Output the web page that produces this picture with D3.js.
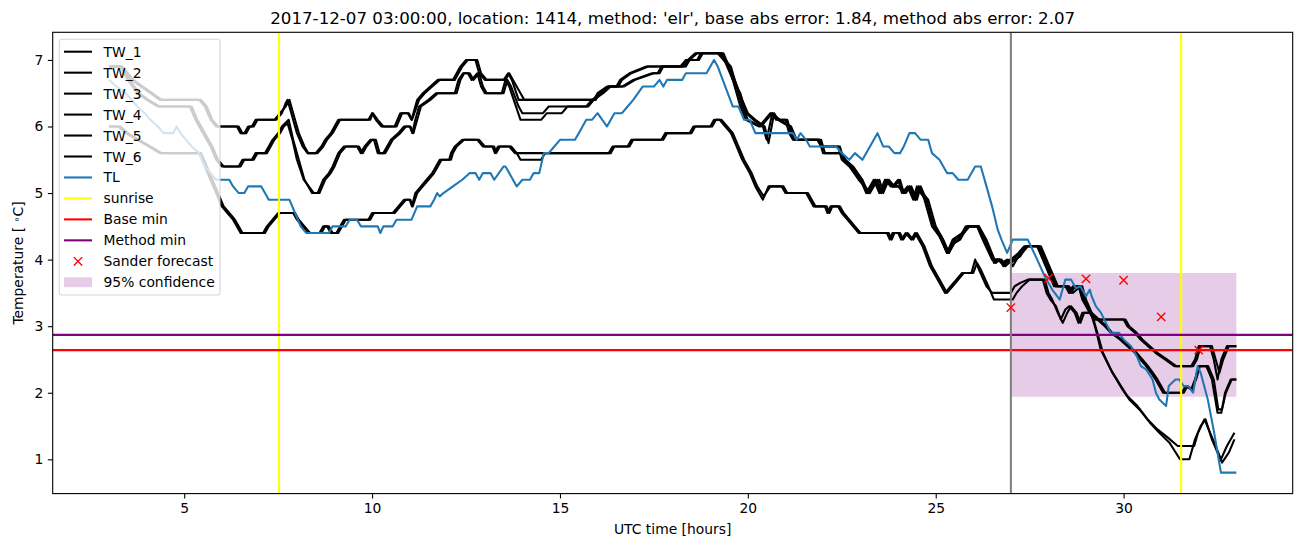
<!DOCTYPE html>
<html><head><meta charset="utf-8">
<script src="https://cdn.jsdelivr.net/npm/d3@7"></script>
<style>body{margin:0;background:#fff} svg{display:block} text{font-family:"DejaVu Sans",sans-serif;fill:#000}</style>
</head><body><svg id="chart" width="1302" height="547"></svg>
<script>
const TITLE = "2017-12-07 03:00:00, location: 1414, method: 'elr', base abs error: 1.84, method abs error: 2.07";
const X_LABEL = "UTC time [hours]";
const X_TICKS = [5, 10, 15, 20, 25, 30];
const Y_TICKS = [1, 2, 3, 4, 5, 6, 7];
const X_DOMAIN = [1.5, 34.5];
const Y_DOMAIN = [0.485, 7.415];
const SUNRISE = [7.52, 31.53];
const FORECAST_TIME = [27.0];
const BASE_MIN = [2.64];
const METHOD_MIN = [2.87];
const CONF_HOURS = [27.0, 33.0];
const CONF_LOW = [1.94, 1.94];
const CONF_HIGH = [3.80, 3.80];
const SANDER_HOURS = [27, 28, 29, 30, 31, 32];
const SANDER_VALUES = [3.28, 3.72, 3.71, 3.69, 3.14, 2.64];

const TW_1 = [[3.0,6.9],[3.3,6.9],[3.45,6.8],[3.6,6.7],[3.85,6.6],[4.1,6.5],[4.35,6.4],[5.4,6.4],[5.55,6.3],[5.7,6.1],[5.85,6.0],[6.4,6.0],[6.5,5.9],[6.6,5.9],[6.7,6.0],[6.8,6.0],[6.9,6.1],[7.4,6.1],[7.55,6.2],[7.7,6.3],[7.8,6.4],[7.9,6.2],[8.05,5.9],[8.2,5.7],[8.3,5.6],[8.5,5.6],[8.65,5.7],[8.75,5.8],[8.9,5.9],[9.0,6.0],[9.1,6.1],[9.9,6.1],[10.0,6.2],[10.1,6.1],[10.25,6.0],[10.6,6.0],[10.75,6.2],[10.95,6.2],[11.05,6.1],[11.2,6.4],[11.35,6.5],[11.55,6.6],[11.75,6.7],[12.15,6.7],[12.25,6.8],[12.35,6.9],[12.5,7.0],[12.75,7.0],[12.85,6.8],[13.0,6.7],[13.5,6.7],[13.62,6.8],[13.72,6.7],[13.9,6.4],[15.9,6.4],[16.0,6.5],[16.25,6.6],[16.5,6.6],[16.6,6.7],[16.85,6.8],[17.3,6.9],[18.3,6.9],[18.4,7.0],[18.6,7.1],[19.2,7.1],[19.35,7.0],[19.5,6.9],[19.6,6.7],[19.8,6.5],[19.95,6.2],[20.15,6.1],[20.4,6.0],[20.5,5.8],[20.65,6.2],[20.75,6.1],[21.0,6.1],[21.1,5.9],[21.2,5.8],[21.85,5.8],[21.95,5.7],[22.4,5.7],[22.5,5.5],[22.7,5.4],[22.95,5.2],[23.1,5.1],[23.2,5.0],[23.3,5.1],[23.45,5.2],[23.55,5.0],[23.7,5.2],[23.85,5.1],[24.0,5.2],[24.1,5.0],[24.25,5.1],[24.4,4.9],[24.5,5.1],[24.6,5.0],[24.75,4.9],[24.95,4.5],[25.15,4.3],[25.3,4.1],[25.45,4.25],[25.6,4.3],[25.8,4.5],[26.1,4.5],[26.3,4.3],[26.55,3.95],[26.65,4.0],[26.75,3.95],[26.9,4.0],[27.0,3.95],[27.1,4.0],[27.25,4.05],[27.4,4.2],[27.75,4.2],[27.9,4.0],[28.05,3.8],[28.2,3.6],[28.45,3.6],[28.55,3.5],[28.65,3.6],[28.85,3.6],[28.95,3.4],[29.1,3.2],[29.2,3.1],[30.0,3.1],[30.1,3.0],[30.3,2.9],[30.45,2.8],[30.65,2.7],[30.85,2.6],[31.1,2.5],[31.35,2.4],[31.8,2.4],[31.9,2.5],[32.0,2.7],[32.3,2.7],[32.4,2.5],[32.5,2.2],[32.6,2.5],[32.75,2.7],[33.0,2.7]];
const TW_2 = [[3.0,6.9],[3.35,6.9],[3.5,6.8],[3.65,6.7],[3.9,6.6],[4.15,6.5],[4.4,6.4],[5.45,6.4],[5.6,6.3],[5.75,6.1],[5.9,6.0],[6.45,6.0],[6.55,5.9],[6.65,5.9],[6.75,6.0],[6.85,6.0],[6.95,6.1],[7.45,6.1],[7.6,6.2],[7.7,6.35],[7.75,6.4],[7.85,6.2],[8.0,5.9],[8.15,5.7],[8.28,5.6],[8.55,5.6],[8.7,5.7],[8.8,5.8],[8.95,5.9],[9.05,6.0],[9.15,6.1],[9.95,6.1],[10.02,6.2],[10.15,6.1],[10.3,6.0],[10.65,6.0],[10.8,6.2],[10.98,6.2],[11.06,6.1],[11.25,6.4],[11.4,6.5],[11.6,6.6],[11.8,6.7],[12.2,6.7],[12.3,6.8],[12.4,6.9],[12.55,7.0],[12.8,7.0],[12.9,6.8],[13.05,6.7],[13.55,6.7],[13.65,6.8],[13.75,6.7],[13.95,6.5],[14.05,6.4],[15.95,6.4],[16.05,6.5],[16.3,6.6],[16.55,6.6],[16.65,6.7],[16.9,6.8],[17.35,6.9],[18.35,6.9],[18.45,7.0],[18.65,7.1],[19.25,7.1],[19.4,7.0],[19.55,6.9],[19.65,6.7],[19.85,6.4],[20.0,6.2],[20.2,6.1],[20.45,6.0],[20.55,5.75],[20.7,6.2],[20.8,6.1],[21.05,6.1],[21.15,5.9],[21.25,5.8],[21.9,5.8],[22.0,5.7],[22.45,5.7],[22.55,5.5],[22.75,5.4],[23.0,5.2],[23.12,5.1],[23.25,5.0],[23.35,5.1],[23.5,5.2],[23.6,5.0],[23.75,5.2],[23.9,5.1],[24.05,5.2],[24.15,5.0],[24.3,5.1],[24.45,4.9],[24.55,5.1],[24.65,5.0],[24.8,4.9],[25.0,4.5],[25.2,4.3],[25.35,4.1],[25.5,4.25],[25.65,4.3],[25.85,4.5],[26.15,4.5],[26.35,4.3],[26.6,3.95],[26.7,4.0],[26.8,3.9],[26.95,4.0],[27.05,3.9],[27.15,4.0],[27.3,4.1],[27.45,4.2],[27.8,4.2],[27.95,4.0],[28.1,3.8],[28.25,3.6],[28.5,3.6],[28.6,3.5],[28.7,3.6],[28.9,3.6],[29.0,3.4],[29.15,3.2],[29.25,3.1],[30.05,3.1],[30.15,3.0],[30.35,2.9],[30.5,2.8],[30.7,2.7],[30.9,2.6],[31.15,2.5],[31.4,2.4],[31.85,2.4],[31.95,2.5],[32.05,2.7],[32.35,2.7],[32.45,2.5],[32.55,2.3],[32.65,2.5],[32.8,2.7],[33.0,2.7]];
const TW_3 = [[3.0,6.9],[3.3,6.9],[3.5,6.7],[3.75,6.5],[4.0,6.4],[4.3,6.3],[5.15,6.3],[5.3,6.1],[5.5,5.9],[5.7,5.7],[5.85,5.5],[6.0,5.4],[6.45,5.4],[6.55,5.5],[6.8,5.5],[6.9,5.6],[7.15,5.6],[7.25,5.7],[7.35,5.8],[7.5,5.9],[7.6,6.0],[7.78,6.1],[7.9,5.8],[8.05,5.5],[8.2,5.2],[8.4,5.0],[8.55,5.0],[8.7,5.2],[8.85,5.3],[8.95,5.4],[9.1,5.6],[9.25,5.7],[9.6,5.7],[9.7,5.6],[9.8,5.7],[9.95,5.8],[10.05,5.8],[10.15,5.6],[10.3,5.6],[10.4,5.7],[10.5,5.8],[10.7,5.9],[10.85,6.0],[11.0,6.0],[11.07,5.9],[11.15,6.1],[11.25,6.3],[11.5,6.4],[11.7,6.5],[12.2,6.5],[12.3,6.7],[12.42,6.8],[12.55,6.8],[12.65,6.7],[12.8,6.8],[12.9,6.6],[13.0,6.5],[13.45,6.5],[13.55,6.7],[13.65,6.6],[13.95,6.1],[14.5,6.1],[14.65,6.2],[15.05,6.2],[15.2,6.3],[15.7,6.3],[15.85,6.4],[16.1,6.5],[16.3,6.6],[16.65,6.6],[16.95,6.7],[17.45,6.8],[17.6,6.8],[17.7,6.9],[18.2,6.9],[18.35,7.0],[18.65,7.0],[18.75,7.1],[19.3,7.1],[19.45,6.9],[19.6,6.7],[19.8,6.3],[19.95,6.1],[20.3,6.0],[20.45,6.1],[20.6,6.2],[20.8,6.1],[21.1,6.0],[21.25,5.8],[21.9,5.8],[22.0,5.6],[22.45,5.6],[22.55,5.5],[22.75,5.4],[23.0,5.2],[23.15,5.0],[23.35,5.2],[23.5,5.0],[23.65,5.2],[23.8,5.1],[24.0,5.1],[24.15,5.0],[24.3,5.1],[24.45,4.9],[24.55,5.1],[24.7,4.9],[24.9,4.5],[25.1,4.35],[25.3,4.1],[25.45,4.3],[25.7,4.4],[25.85,4.5],[26.1,4.5],[26.25,4.3],[26.5,4.0],[26.7,4.0],[26.8,3.95],[27.0,4.0],[27.2,4.1],[27.35,4.2],[27.7,4.2],[27.85,4.0],[28.0,3.8],[28.15,3.6],[28.5,3.6],[28.6,3.55],[28.8,3.6],[28.9,3.4],[29.1,3.2],[29.3,3.1],[29.5,3.0],[29.66,2.9],[29.9,2.8],[30.1,2.7],[30.3,2.6],[30.45,2.5],[30.6,2.4],[30.73,2.3],[30.85,2.2],[30.95,2.1],[31.05,2.0],[31.55,2.0],[31.65,2.1],[31.8,2.05],[31.9,2.2],[32.0,2.4],[32.2,2.4],[32.35,2.2],[32.5,1.7],[32.6,1.7],[32.7,2.0],[32.85,2.2],[33.0,2.2]];
const TW_4 = [[3.0,6.9],[3.35,6.9],[3.55,6.7],[3.8,6.5],[4.05,6.4],[4.35,6.3],[5.2,6.3],[5.35,6.1],[5.55,5.9],[5.75,5.7],[5.9,5.5],[6.05,5.4],[6.5,5.4],[6.6,5.5],[6.85,5.5],[6.95,5.6],[7.2,5.6],[7.3,5.7],[7.4,5.8],[7.55,5.9],[7.65,6.0],[7.75,6.05],[7.88,5.8],[8.0,5.5],[8.18,5.2],[8.45,5.0],[8.6,5.0],[8.75,5.2],[8.9,5.3],[9.0,5.4],[9.15,5.6],[9.3,5.7],[9.65,5.7],[9.75,5.6],[9.85,5.7],[10.0,5.8],[10.1,5.8],[10.2,5.6],[10.35,5.6],[10.45,5.7],[10.55,5.8],[10.75,5.9],[10.9,6.0],[11.02,6.0],[11.1,5.9],[11.2,6.1],[11.3,6.3],[11.55,6.4],[11.75,6.5],[12.25,6.5],[12.35,6.7],[12.45,6.8],[12.6,6.8],[12.7,6.7],[12.85,6.8],[12.95,6.6],[13.05,6.5],[13.5,6.5],[13.6,6.7],[13.7,6.6],[13.9,6.3],[14.0,6.2],[14.55,6.2],[14.7,6.3],[15.1,6.3],[15.25,6.3],[15.75,6.3],[15.9,6.4],[16.15,6.5],[16.35,6.6],[16.7,6.6],[17.0,6.7],[17.5,6.8],[17.65,6.8],[17.75,6.9],[18.25,6.9],[18.4,7.0],[18.7,7.0],[18.8,7.1],[19.35,7.1],[19.5,6.9],[19.65,6.7],[19.85,6.3],[20.0,6.1],[20.35,6.0],[20.5,6.1],[20.65,6.2],[20.85,6.1],[21.15,6.0],[21.3,5.8],[21.95,5.8],[22.05,5.6],[22.5,5.6],[22.6,5.5],[22.8,5.4],[23.05,5.2],[23.2,5.0],[23.4,5.2],[23.55,5.0],[23.7,5.2],[23.85,5.1],[24.05,5.1],[24.2,5.0],[24.35,5.1],[24.5,4.9],[24.6,5.1],[24.75,4.9],[24.95,4.5],[25.15,4.35],[25.35,4.1],[25.5,4.3],[25.75,4.4],[25.9,4.5],[26.15,4.5],[26.3,4.3],[26.55,4.0],[26.75,4.0],[26.85,3.9],[27.05,4.0],[27.25,4.1],[27.4,4.2],[27.75,4.2],[27.9,4.0],[28.05,3.8],[28.2,3.6],[28.55,3.6],[28.65,3.5],[28.85,3.6],[28.95,3.4],[29.15,3.2],[29.35,3.1],[29.55,3.0],[29.7,2.9],[29.95,2.8],[30.15,2.7],[30.35,2.6],[30.5,2.5],[30.65,2.4],[30.78,2.3],[30.9,2.2],[31.0,2.1],[31.1,2.0],[31.6,2.0],[31.7,2.1],[31.82,2.05],[31.93,2.2],[32.03,2.4],[32.25,2.4],[32.4,2.2],[32.52,1.75],[32.62,1.75],[32.72,2.0],[32.88,2.2],[33.0,2.2]];
const TW_5 = [[3.0,6.0],[3.25,6.0],[3.45,5.9],[3.75,5.8],[4.05,5.7],[4.35,5.6],[5.4,5.6],[5.55,5.4],[5.7,5.2],[5.85,5.0],[6.0,4.8],[6.15,4.7],[6.3,4.6],[6.4,4.5],[6.5,4.4],[7.1,4.4],[7.2,4.5],[7.35,4.6],[7.5,4.7],[7.9,4.7],[8.0,4.6],[8.15,4.5],[8.3,4.4],[8.6,4.4],[8.7,4.5],[8.8,4.5],[8.9,4.4],[9.05,4.4],[9.15,4.5],[9.25,4.6],[9.9,4.6],[10.0,4.7],[10.55,4.7],[10.7,4.8],[10.85,4.9],[11.0,4.9],[11.06,4.8],[11.15,5.0],[11.3,5.1],[11.45,5.2],[11.6,5.3],[11.7,5.4],[11.8,5.5],[12.05,5.5],[12.1,5.6],[12.2,5.7],[12.4,5.8],[12.8,5.8],[12.95,5.7],[13.2,5.7],[13.27,5.6],[13.35,5.7],[13.7,5.7],[13.85,5.6],[13.95,5.5],[14.5,5.5],[14.6,5.6],[16.3,5.6],[16.4,5.7],[16.8,5.7],[16.9,5.8],[17.7,5.8],[17.8,5.9],[18.45,5.9],[18.55,6.0],[19.0,6.0],[19.1,6.1],[19.25,6.1],[19.4,6.0],[19.55,5.9],[19.7,5.7],[19.85,5.5],[20.05,5.3],[20.2,5.1],[20.4,4.9],[20.55,5.1],[20.9,5.1],[21.0,5.0],[21.55,5.0],[21.65,4.9],[21.75,4.8],[22.05,4.8],[22.12,4.7],[22.2,4.8],[22.4,4.8],[22.5,4.7],[22.65,4.6],[22.8,4.5],[22.95,4.4],[23.7,4.4],[23.78,4.3],[23.85,4.4],[24.0,4.4],[24.08,4.3],[24.2,4.4],[24.35,4.3],[24.45,4.4],[24.65,4.2],[24.85,3.9],[25.05,3.7],[25.25,3.5],[25.4,3.6],[25.55,3.7],[25.7,3.8],[25.95,3.8],[26.05,4.0],[26.15,3.85],[26.35,3.6],[26.5,3.5],[27.0,3.5],[27.1,3.6],[27.25,3.65],[27.45,3.7],[27.85,3.7],[27.95,3.5],[28.05,3.4],[28.2,3.3],[28.33,3.1],[28.45,3.25],[28.55,3.3],[28.7,3.2],[28.8,3.05],[28.9,3.2],[29.13,3.2],[29.26,2.95],[29.39,2.65],[29.66,2.35],[29.93,2.1],[30.1,1.95],[30.37,1.8],[30.64,1.6],[30.9,1.45],[31.17,1.33],[31.44,1.2],[31.88,1.2],[31.98,1.4],[32.15,1.6],[32.3,1.4],[32.45,1.2],[32.59,1.0],[32.75,1.2],[32.95,1.4]];
const TW_6 = [[3.0,6.0],[3.3,6.0],[3.5,5.9],[3.8,5.8],[4.1,5.7],[4.4,5.6],[5.45,5.6],[5.6,5.4],[5.75,5.2],[5.9,5.0],[6.05,4.8],[6.2,4.7],[6.35,4.6],[6.45,4.5],[6.55,4.4],[7.15,4.4],[7.25,4.5],[7.4,4.6],[7.55,4.7],[7.95,4.7],[8.05,4.6],[8.2,4.5],[8.35,4.4],[8.65,4.4],[8.75,4.5],[8.85,4.5],[8.95,4.4],[9.1,4.4],[9.2,4.5],[9.3,4.6],[9.95,4.6],[10.05,4.7],[10.6,4.7],[10.75,4.8],[10.9,4.9],[11.02,4.9],[11.08,4.8],[11.2,5.0],[11.35,5.1],[11.5,5.2],[11.65,5.3],[11.75,5.4],[11.85,5.5],[12.1,5.5],[12.15,5.6],[12.25,5.7],[12.45,5.8],[12.85,5.8],[13.0,5.7],[13.25,5.7],[13.3,5.6],[13.4,5.7],[13.65,5.7],[13.8,5.6],[14.55,5.6],[16.35,5.6],[16.45,5.7],[16.85,5.7],[16.95,5.8],[17.75,5.8],[17.85,5.9],[18.5,5.9],[18.6,6.0],[19.05,6.0],[19.15,6.1],[19.3,6.1],[19.45,6.0],[19.6,5.9],[19.75,5.7],[19.9,5.5],[20.1,5.3],[20.25,5.1],[20.42,4.95],[20.6,5.1],[20.95,5.1],[21.05,5.0],[21.6,5.0],[21.7,4.9],[21.8,4.8],[22.1,4.8],[22.17,4.7],[22.25,4.8],[22.45,4.8],[22.55,4.7],[22.7,4.6],[22.85,4.5],[23.0,4.4],[23.75,4.4],[23.83,4.3],[23.9,4.4],[24.05,4.4],[24.13,4.3],[24.25,4.4],[24.4,4.3],[24.5,4.4],[24.7,4.2],[24.9,3.9],[25.1,3.7],[25.3,3.5],[25.45,3.6],[25.6,3.7],[25.75,3.8],[26.0,3.8],[26.1,3.95],[26.2,3.85],[26.4,3.6],[26.55,3.4],[27.05,3.4],[27.15,3.5],[27.3,3.6],[27.5,3.7],[27.9,3.7],[28.0,3.5],[28.1,3.4],[28.25,3.2],[28.38,3.05],[28.5,3.2],[28.6,3.3],[28.75,3.2],[28.85,3.05],[28.95,3.2],[29.15,3.2],[29.3,2.9],[29.45,2.6],[29.7,2.3],[29.97,2.05],[30.15,1.9],[30.42,1.75],[30.7,1.55],[30.95,1.4],[31.22,1.25],[31.5,1.0],[31.75,1.0],[31.9,1.3],[32.05,1.5],[32.18,1.6],[32.35,1.3],[32.5,1.1],[32.62,0.95],[32.8,1.1],[32.95,1.3]];
const TL = [[3.0,6.7],[3.2,6.6],[3.45,6.5],[3.6,6.4],[3.75,6.3],[3.95,6.2],[4.1,6.1],[4.3,6.0],[4.45,5.9],[4.7,5.9],[4.8,6.0],[4.9,5.9],[5.05,5.8],[5.2,5.7],[5.4,5.6],[5.55,5.4],[5.7,5.3],[5.85,5.2],[6.2,5.2],[6.3,5.1],[6.45,5.0],[6.6,5.0],[6.7,5.1],[7.05,5.1],[7.15,5.0],[7.25,4.9],[7.8,4.9],[7.95,4.7],[8.1,4.5],[8.25,4.4],[8.85,4.4],[8.95,4.5],[9.3,4.5],[9.4,4.6],[9.6,4.6],[9.7,4.5],[10.15,4.5],[10.22,4.4],[10.3,4.5],[10.55,4.5],[10.65,4.6],[11.05,4.6],[11.2,4.8],[11.55,4.8],[11.65,4.9],[11.73,5.0],[11.8,4.95],[11.9,5.0],[12.15,5.1],[12.4,5.2],[12.6,5.3],[12.75,5.3],[12.85,5.2],[12.95,5.3],[13.15,5.3],[13.25,5.2],[13.5,5.4],[13.55,5.4],[13.85,5.1],[14.0,5.2],[14.2,5.2],[14.3,5.3],[14.45,5.3],[14.57,5.6],[14.7,5.6],[14.85,5.7],[15.0,5.8],[15.4,5.8],[15.5,5.9],[15.7,6.1],[15.85,6.1],[16.0,6.2],[16.25,6.0],[16.45,6.2],[16.65,6.2],[16.8,6.3],[16.95,6.4],[17.2,6.6],[17.5,6.6],[17.65,6.7],[17.75,6.6],[17.85,6.7],[18.25,6.7],[18.35,6.8],[18.9,6.8],[19.1,7.0],[19.2,6.9],[19.6,6.3],[19.75,6.3],[19.9,6.1],[20.05,6.1],[20.2,5.9],[21.2,5.9],[21.3,5.8],[21.4,5.9],[21.55,5.8],[21.65,5.7],[22.35,5.7],[22.5,5.6],[22.7,5.5],[22.85,5.6],[23.05,5.5],[23.25,5.7],[23.45,5.9],[23.6,5.7],[23.75,5.7],[23.9,5.6],[24.05,5.6],[24.15,5.7],[24.3,5.9],[24.45,5.9],[24.6,5.8],[24.8,5.8],[24.9,5.6],[25.1,5.5],[25.3,5.3],[25.45,5.3],[25.6,5.2],[25.85,5.2],[26.05,5.4],[26.2,5.4],[26.35,5.1],[26.5,4.8],[26.65,4.45],[26.75,4.3],[26.9,4.1],[27.05,4.3],[27.45,4.3],[27.7,4.0],[27.9,3.75],[28.1,3.55],[28.3,3.4],[28.45,3.7],[28.6,3.7],[28.73,3.57],[28.85,3.6],[29.0,3.45],[29.1,3.55],[29.15,3.45],[29.26,3.3],[29.4,3.2],[29.53,3.05],[29.66,2.9],[29.88,2.9],[30.0,2.8],[30.2,2.7],[30.35,2.55],[30.46,2.4],[30.6,2.35],[30.77,2.2],[30.86,2.0],[30.95,1.9],[31.13,1.8],[31.2,2.1],[31.38,2.2],[31.48,2.2],[31.6,2.1],[31.72,2.1],[31.85,2.0],[31.97,2.4],[32.05,2.3],[32.24,1.9],[32.41,1.4],[32.59,0.8],[33.0,0.8]];

const TW_DATA = [TW_1, TW_2, TW_3, TW_4, TW_5, TW_6];
const LEGEND_LABELS = ["TW_1","TW_2","TW_3","TW_4","TW_5","TW_6","TL","sunrise","Base min","Method min","Sander forecast","95% confidence"];

const M = {left: 52.7, right: 1292.7, top: 32.3, bottom: 493.6};
const FS = 13.89;
const LW_PX = 2.08;
const svg = d3.select("#chart");
const x = d3.scaleLinear().domain(X_DOMAIN).range([M.left, M.right]);
const y = d3.scaleLinear().domain(Y_DOMAIN).range([M.bottom, M.top]);

svg.append("defs").append("clipPath").attr("id","clip").append("rect")
  .attr("x", M.left).attr("y", M.top).attr("width", M.right - M.left).attr("height", M.bottom - M.top);
const plot = svg.append("g").attr("clip-path","url(#clip)");

// confidence band
const band = CONF_HOURS.map((h,i)=>({h, lo: CONF_LOW[i], hi: CONF_HIGH[i]}));
plot.append("path").datum(band)
  .attr("d", d3.area().x(d=>x(d.h)).y0(d=>y(d.lo)).y1(d=>y(d.hi)))
  .attr("fill","purple").attr("fill-opacity",0.2).attr("stroke","none");

const line = d3.line().x(d=>x(d[0])).y(d=>y(d[1]));
TW_DATA.forEach(s=>{
  plot.append("path").datum(s).attr("d", line).attr("fill","none")
    .attr("stroke","#000").attr("stroke-width",LW_PX).attr("stroke-linejoin","round");
});
plot.append("path").datum(TL).attr("d", line).attr("fill","none")
  .attr("stroke","#1f77b4").attr("stroke-width",LW_PX).attr("stroke-linejoin","round");

SUNRISE.forEach(h=>{
  plot.append("line").attr("x1",x(h)).attr("x2",x(h)).attr("y1",M.top).attr("y2",M.bottom)
    .attr("stroke","yellow").attr("stroke-width",LW_PX);
});
BASE_MIN.forEach(v=>{
  plot.append("line").attr("x1",M.left).attr("x2",M.right).attr("y1",y(v)).attr("y2",y(v))
    .attr("stroke","red").attr("stroke-width",LW_PX);
});
METHOD_MIN.forEach(v=>{
  plot.append("line").attr("x1",M.left).attr("x2",M.right).attr("y1",y(v)).attr("y2",y(v))
    .attr("stroke","purple").attr("stroke-width",LW_PX);
});
FORECAST_TIME.forEach(h=>{
  plot.append("line").attr("x1",x(h)).attr("x2",x(h)).attr("y1",M.top).attr("y2",M.bottom)
    .attr("stroke","grey").attr("stroke-width",LW_PX);
});

const mk = 4.17;
SANDER_HOURS.forEach((h,i)=>{
  const cx = x(h), cy = y(SANDER_VALUES[i]);
  plot.append("path").attr("d",`M${cx-mk},${cy-mk}L${cx+mk},${cy+mk}M${cx-mk},${cy+mk}L${cx+mk},${cy-mk}`)
    .attr("stroke","red").attr("stroke-width",1.4).attr("fill","none");
});

// axes
const xAxis = d3.axisBottom(x).tickValues(X_TICKS).tickSize(4.86).tickPadding(4.6).tickSizeOuter(0).tickFormat(d3.format("d"));
const yAxis = d3.axisLeft(y).tickValues(Y_TICKS).tickSize(4.86).tickPadding(4.6).tickSizeOuter(0).tickFormat(d3.format("d"));
const gx = svg.append("g").attr("transform",`translate(0,${M.bottom})`).call(xAxis);
const gy = svg.append("g").attr("transform",`translate(${M.left},0)`).call(yAxis);
[gx, gy].forEach(g=>{
  g.select(".domain").remove();
  g.selectAll(".tick line").attr("stroke","#000").attr("stroke-width",1.1);
  g.selectAll(".tick text").attr("font-size",FS).attr("font-family","DejaVu Sans").attr("fill","#000");
});
svg.append("rect").attr("x",M.left).attr("y",M.top).attr("width",M.right-M.left).attr("height",M.bottom-M.top)
  .attr("fill","none").attr("stroke","#000").attr("stroke-width",1.1);

// labels
svg.append("text").attr("x",(M.left+M.right)/2).attr("y",M.top-8.6).attr("text-anchor","middle")
  .attr("font-size",16.67).text(TITLE);
svg.append("text").attr("x",(M.left+M.right)/2).attr("y",534).attr("text-anchor","middle")
  .attr("font-size",FS).text(X_LABEL);
const yl = svg.append("text").attr("transform",`translate(23,${(M.top+M.bottom)/2}) rotate(-90)`)
  .attr("text-anchor","middle").attr("font-size",FS);
yl.append("tspan").text("Temperature [ ");
yl.append("tspan").attr("baseline-shift","35%").attr("font-size",FS*0.7).text("∘");
yl.append("tspan").text("C]");

// legend
const lg = svg.append("g");
const LX = 59.3, LY = 39.3, LWD = 160.7, LH = 255.7;
lg.append("rect").attr("x",LX).attr("y",LY).attr("width",LWD).attr("height",LH).attr("rx",2.8)
  .attr("fill","#fff").attr("fill-opacity",0.8).attr("stroke","#cccccc").attr("stroke-opacity",0.8).attr("stroke-width",1.1);
const handleColors = ["#000","#000","#000","#000","#000","#000","#1f77b4","yellow","red","purple"];
LEGEND_LABELS.forEach((lab,i)=>{
  const cy = 51.7 + i*20.96;
  if (i < 10) {
    lg.append("line").attr("x1",64).attr("x2",92).attr("y1",cy).attr("y2",cy)
      .attr("stroke",handleColors[i]).attr("stroke-width",LW_PX);
  } else if (i === 10) {
    const cx = 78;
    lg.append("path").attr("d",`M${cx-mk},${cy-mk}L${cx+mk},${cy+mk}M${cx-mk},${cy+mk}L${cx+mk},${cy-mk}`)
      .attr("stroke","red").attr("stroke-width",1.4);
  } else {
    lg.append("rect").attr("x",64).attr("y",cy-4.9).attr("width",28).attr("height",9.8)
      .attr("fill","purple").attr("fill-opacity",0.2);
  }
  lg.append("text").attr("x",103.5).attr("y",cy).attr("dy","0.36em").attr("font-size",FS).text(lab);
});
</script></body></html>
